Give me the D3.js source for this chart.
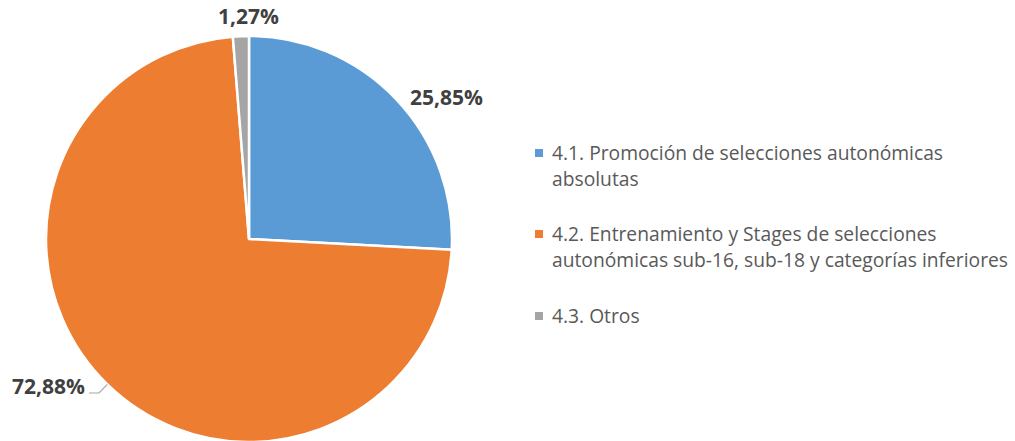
<!DOCTYPE html>
<html>
<head>
<meta charset="utf-8">
<script src="https://cdn.jsdelivr.net/npm/d3@7"></script>
<style>
  body { margin: 0; background: #fff; }
  svg { display: block; }
</style>
</head>
<body>
<div id="chart-container"></div>
<script>
//Data
const categories = [
  "4.1. Promoción de selecciones autonómicas absolutas",
  "4.2. Entrenamiento y Stages de selecciones autonómicas sub-16, sub-18 y categorías inferiores",
  "4.3. Otros"
];
const values = [25.85, 72.88, 1.27];
const valueLabels = ["25,85%", "72,88%", "1,27%"];
const colors = ["#5B9BD5", "#ED7D31", "#A5A5A5"];

//Dimensions
const width = 1015;
const height = 441;
const cx = 249, cy = 239, radius = 203;

const svg = d3.select("#chart-container")
  .append("svg")
    .attr("width", width)
    .attr("height", height);

const dataset = categories.map((c, i) => ({ name: c, value: values[i], label: valueLabels[i], color: colors[i] }));

const pie = d3.pie().sort(null).value(d => d.value);
const arc = d3.arc().innerRadius(0).outerRadius(radius);
const arcs = pie(dataset);

const g = svg.append("g")
  .attr("transform", `translate(${cx}, ${cy})`);

//Slices
g.selectAll("path.slice")
  .data(arcs)
  .join("path")
    .attr("class", "slice")
    .attr("d", arc)
    .attr("fill", d => d.data.color)
    .attr("stroke", "#fff")
    .attr("stroke-width", 2.5)
    .attr("stroke-linejoin", "round");

//Data labels
const pt = (a, r) => [r * Math.sin(a), -r * Math.cos(a)];

arcs.forEach((d, i) => {
  const mid = (d.startAngle + d.endAngle) / 2;
  const p = pt(mid, radius + 12);
  const t = g.append("text")
    .style("font-family", "'Open Sans', sans-serif")
    .style("font-weight", "bold")
    .style("font-size", "21px")
    .attr("fill", "#404040")
    .text(d.data.label);
  if (mid > Math.PI * 1.9) {
    // top
    t.attr("x", p[0] + 8).attr("y", p[1]).attr("text-anchor", "middle");
  } else if (mid < Math.PI) {
    // right
    t.attr("x", p[0] + 5).attr("y", p[1] + 14).attr("text-anchor", "start");
  } else {
    // left, with leader line
    const p0 = pt(mid, radius);
    g.append("polyline")
      .attr("points", [p0, p, [p[0] - 10, p[1]]].map(q => q.join(",")).join(" "))
      .attr("fill", "none")
      .attr("stroke", "#A6A6A6")
      .attr("stroke-width", 1.2);
    t.attr("x", p[0] - 14).attr("y", p[1] + 1).attr("text-anchor", "end");
  }
});

//Legend
const legendX = 535, textX = 552, maxWidth = 462, lineH = 26;
const legendY = [160, 241, 323];

const legend = svg.append("g")
  .style("font-family", "'Open Sans', sans-serif")
  .attr("fill", "#595959");

// fit font size so the widest wrapped line matches the reference width
const probe = legend.append("text").style("font-size", "20px").text("autonómicas sub-16, sub-18 y categorías inferiores");
const fontSize = 20 * 456 / probe.node().getComputedTextLength();
probe.remove();

dataset.forEach((d, i) => {
  legend.append("rect")
    .attr("x", legendX)
    .attr("y", legendY[i] - 11)
    .attr("width", 8)
    .attr("height", 8)
    .attr("fill", d.color);

  const text = legend.append("text")
    .attr("x", textX)
    .attr("y", legendY[i])
    .style("font-size", fontSize + "px");

  const words = d.name.split(" ");
  let line = [];
  let lineNo = 0;
  let tspan = text.append("tspan").attr("x", textX).attr("y", legendY[i]);
  words.forEach(w => {
    line.push(w);
    tspan.text(line.join(" "));
    if (tspan.node().getComputedTextLength() > maxWidth && line.length > 1) {
      line.pop();
      tspan.text(line.join(" "));
      line = [w];
      lineNo++;
      tspan = text.append("tspan")
        .attr("x", textX)
        .attr("y", legendY[i] + lineNo * lineH)
        .text(w);
    }
  });
});
</script>
</body>
</html>
